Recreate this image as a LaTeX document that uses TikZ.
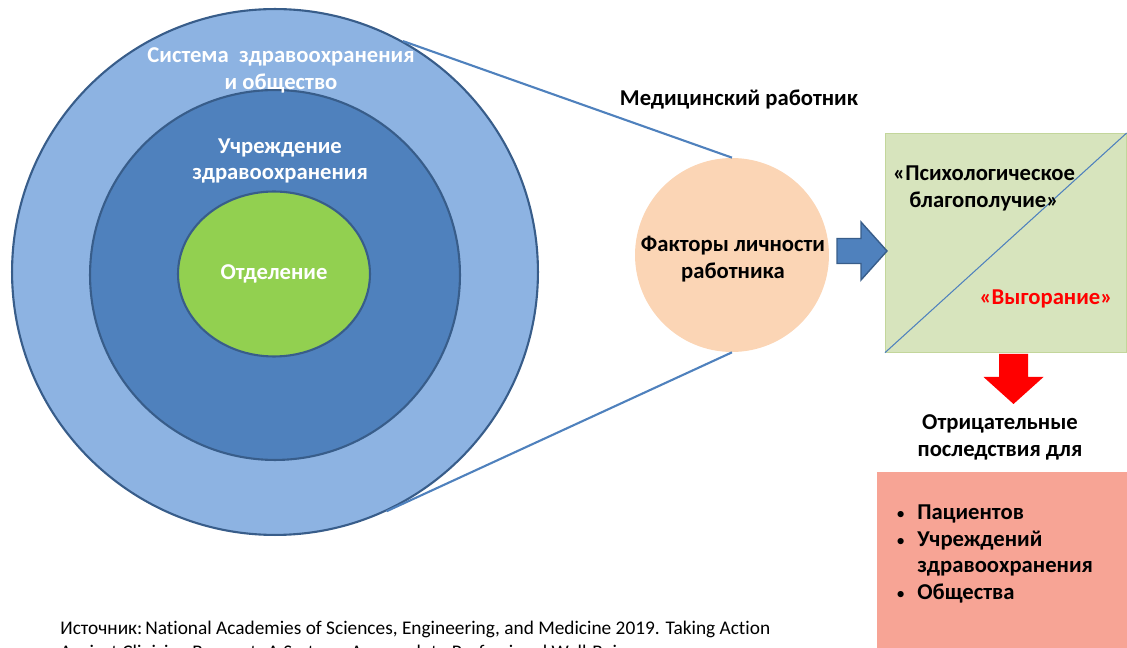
\documentclass[tikz,border=0pt]{standalone}
\usepackage{fontspec}
\setmainfont[Ligatures=NoCommon]{Carlito}
\usetikzlibrary{positioning,shapes.geometric}
\definecolor{ringOuter}{HTML}{8DB3E2}
\definecolor{ringMid}{HTML}{4F81BD}
\definecolor{ringInner}{HTML}{92D050}
\definecolor{ringLine}{HTML}{385D8A}
\definecolor{persFill}{HTML}{FBD5B5}
\definecolor{stateFill}{HTML}{D7E4BD}
\definecolor{stateLine}{HTML}{C3D69B}
\definecolor{effectFill}{HTML}{F7A495}
\newcommand{\lbl}{\fontsize{12.9}{15.3}\selectfont\bfseries}
\newcommand{\bul}{{\mdseries\fontsize{10}{12}\selectfont •}}

\begin{document}
\begin{tikzpicture}[x=0.02cm,y=-0.02cm,
        ring/.style={draw=ringLine,line width=1.2pt,inner sep=0pt},
        wlabel/.style={text=white,font=\lbl,align=center},
        blabel/.style={font=\lbl,align=center},
        link/.style={draw=ringMid,line width=1.2pt}]
        \clip (0,0) rectangle (1127,648);
        % nested levels
        \node[ring,circle,fill=ringOuter,minimum size=10.52cm] (sys) at (275,272) {};
        \node[ring,circle,fill=ringMid,minimum size=7.4cm] (org) at (275,275) {};
        \node[ring,ellipse,fill=ringInner,minimum width=3.84cm,minimum height=3.3cm,
              text=white,font=\lbl] (dep) at (274,274) {Отделение};
        \node[wlabel] (syst) at (281,70) {Система\ \ здравоохранения\\и общество};
        \node[wlabel] (orgt) at (280,161) {Учреждение\\здравоохранения};
        % the worker
        \node[circle,fill=persFill,minimum size=3.88cm,inner sep=0pt] (pers) at (732,255) {};
        \node[blabel] (perst) at (733,259) {Факторы личности\\работника};
        \node[blabel] (worker) at (739,100) {Медицинский работник};
        \draw[link] (sys.61) -- (pers.north);
        \draw[link] (sys.-65) -- (pers.south);
        % state box
        \node[draw=stateLine,fill=stateFill,minimum width=4.82cm,minimum height=4.38cm,
              inner sep=0pt,anchor=north west] (state) at (885,133) {};
        \draw[ringMid,line width=0.6pt] (state.south west) -- (state.north east);
        \node[blabel] (well) at (984,188) {«Психологическое\\благополучие»};
        \node[blabel,text=red] (burn) at (1046,299) {«Выгорание»};
        % block arrows
        \coordinate (ba) at (837,251);
        \fill[ringMid,draw=ringLine,line width=0.8pt] (ba) ++(0,-12.5) -- ++(24,0) -- ++(0,-16.5)
              -- ++(26,29) -- ++(-26,29) -- ++(0,-16.5) -- ++(-24,0) -- cycle;
        \coordinate (ra) at (1013.5,354);
        \fill[red] (ra) ++(-14.5,0) -- ++(29,0) -- ++(0,23) -- ++(15.5,0)
              -- ++(-30,27) -- ++(-30,-27) -- ++(15.5,0) -- cycle;
        % consequences
        \node[blabel] (neg) at (1000,437) {Отрицательные\\последствия для};
        \node[fill=effectFill,minimum width=5cm,minimum height=3.6cm,inner sep=0pt,
              anchor=north west] (eff) at (877,472) {};
        \node[font=\lbl,anchor=north west,inner sep=0pt] (efft) at (896,500) {%
          \begin{tabular}{@{}l@{\hspace{7pt}}l@{}}
            \bul & Пациентов\\
            \bul & Учреждений\\
                 & здравоохранения\\
            \bul & Общества
          \end{tabular}};
        % source
        \node[font=\fontsize{11}{13.4}\selectfont,anchor=north west,align=left,inner sep=0pt] (src) at (60,621)
          {Источник:\hspace{0.15em}National Academies of Sciences, Engineering, and Medicine 2019. Taking Action\\
           Against Clinician Burnout: A Systems Approach to Professional Well-Being};
\end{tikzpicture}
\end{document}
